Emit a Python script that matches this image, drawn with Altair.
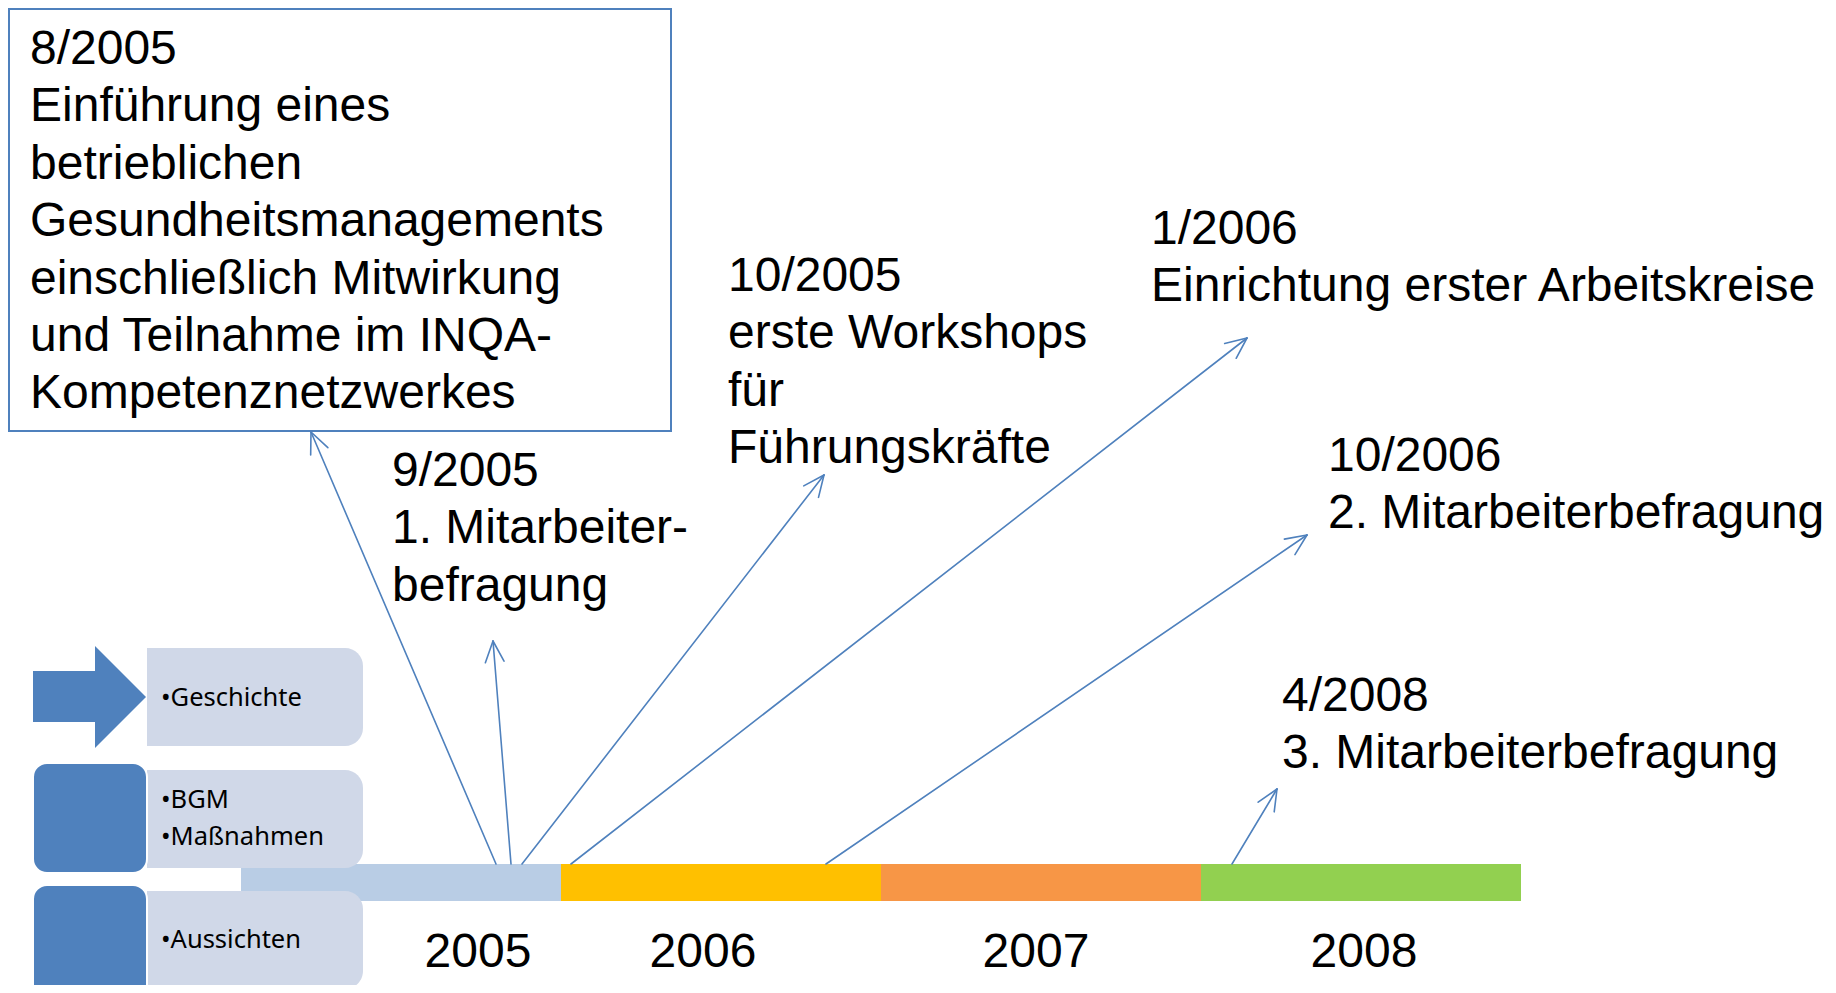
import math
import altair as alt
import pandas as pd

# ---------------- data ----------------
years = ["2005", "2006", "2007", "2008"]
year_colors = ["#B9CDE5", "#FFC000", "#F79646", "#92D050"]
event_dates = ["8/2005", "9/2005", "10/2005", "1/2006", "10/2006", "4/2008"]
event_texts = [
    "Einführung eines\nbetrieblichen\nGesundheitsmanagements\neinschließlich Mitwirkung\nund Teilnahme im INQA-\nKompetenznetzwerkes",
    "1. Mitarbeiter-\nbefragung",
    "erste Workshops\nfür\nFührungskräfte",
    "Einrichtung erster Arbeitskreise",
    "2. Mitarbeiterbefragung",
    "3. Mitarbeiterbefragung",
]
nav_items = ["•Geschichte", "•BGM\n•Maßnahmen", "•Aussichten"]

# ---------------- layout (reference pixel canvas) ----------------
seg_edges = [241, 561, 881, 1201, 1521]
bar_top, bar_bottom = 864, 901
year_label_x = [478, 703, 1036, 1364]
year_label_y = 967
label_x = [30, 392, 728, 1151, 1328, 1282]
label_y = [64, 486, 291, 244, 471, 711]
arrow_start_x = [496, 511, 522, 571, 826, 1232]
arrow_tip_x = [311, 493, 824, 1247, 1307, 1277]
arrow_tip_y = [432, 641, 475, 338, 535, 789]
box_frame = dict(x=9, x2=671, y=9, y2=431)
nav_box_x = (147, 363)
nav_box_y = [(648, 746), (770, 868), (891, 989)]
nav_sq_x = (33, 147)
nav_sq_y = [(763, 873), (885, 1010)]
nav_text_x = 161
nav_text_y = [706, 808, 948]
arrow_body = dict(x=33, x2=96, y=671, y2=722)
arrow_head = [(95, 646, 748), (146, 697, 697)]

BLUE = "#4F81BD"
NAV_FILL = "#D0D8E8"
FONT = "Liberation Sans"
CANVAS_H = 977

xs = alt.Scale(domain=[8, 1828], nice=False, zero=False)
ys = alt.Scale(domain=[8, 8 + CANVAS_H], reverse=True, nice=False, zero=False)


def X(f):
    return alt.X(f, type="quantitative", scale=xs, axis=None)


def Y(f):
    return alt.Y(f, type="quantitative", scale=ys, axis=None)


# frame around first event
frame_df = pd.DataFrame([box_frame])
frame = alt.Chart(frame_df).mark_rect(fillOpacity=0, stroke=BLUE, strokeWidth=2).encode(
    x=X("x"), x2="x2", y=Y("y"), y2="y2")

# timeline bar
bar_df = pd.DataFrame({
    "year": years,
    "x": seg_edges[:-1],
    "x2": seg_edges[1:],
    "y": [bar_top] * 4,
    "y2": [bar_bottom] * 4,
})
bars = alt.Chart(bar_df).mark_rect().encode(
    x=X("x"), x2="x2", y=Y("y"), y2="y2",
    color=alt.Color("year:N", scale=alt.Scale(domain=years, range=year_colors), legend=None),
)

year_df = pd.DataFrame({"year": years, "x": year_label_x, "y": [year_label_y] * 4})
year_text = alt.Chart(year_df).mark_text(
    font=FONT, fontSize=48, baseline="alphabetic", align="center", color="black"
).encode(x=X("x"), y=Y("y"), text="year:N")

# arrows
arr_df = pd.DataFrame({
    "x": arrow_start_x, "y": [bar_top] * 6,
    "x2": arrow_tip_x, "y2": arrow_tip_y,
})
arrows = alt.Chart(arr_df).mark_rule(color=BLUE, strokeWidth=1.6, strokeCap="round").encode(
    x=X("x"), y=Y("y"), x2="x2", y2="y2")

L, th = 23, math.radians(24)
heads = []
for sx, tx, ty in zip(arrow_start_x, arrow_tip_x, arrow_tip_y):
    dx, dy = sx - tx, bar_top - ty
    n = math.hypot(dx, dy)
    ux, uy = dx / n, dy / n
    for s in (1, -1):
        a = s * th
        rx = ux * math.cos(a) - uy * math.sin(a)
        ry = ux * math.sin(a) + uy * math.cos(a)
        heads.append({"x": tx, "y": ty, "x2": tx + L * rx, "y2": ty + L * ry})
head_df = pd.DataFrame(heads)
arrow_heads = alt.Chart(head_df).mark_rule(color=BLUE, strokeWidth=1.6, strokeCap="round").encode(
    x=X("x"), y=Y("y"), x2="x2", y2="y2")

# event labels
lab_df = pd.DataFrame({
    "label": [d + "\n" + t for d, t in zip(event_dates, event_texts)],
    "x": label_x, "y": label_y,
})
labels = alt.Chart(lab_df).mark_text(
    font=FONT, fontSize=48, baseline="alphabetic", align="left", color="black",
    lineBreak="\n", lineHeight=57.4,
).encode(x=X("x"), y=Y("y"), text="label:N")

# left navigation
nav_df = pd.DataFrame({
    "item": nav_items,
    "x": [nav_box_x[0]] * 3, "x2": [nav_box_x[1]] * 3,
    "y": [a for a, b in nav_box_y], "y2": [b for a, b in nav_box_y],
})
nav_boxes = alt.Chart(nav_df).mark_rect(
    color=NAV_FILL, cornerRadiusTopRight=18, cornerRadiusBottomRight=18
).encode(x=X("x"), x2="x2", y=Y("y"), y2="y2")

sq_df = pd.DataFrame({
    "x": [nav_sq_x[0]] * 2, "x2": [nav_sq_x[1]] * 2,
    "y": [a for a, b in nav_sq_y], "y2": [b for a, b in nav_sq_y],
})
nav_squares = alt.Chart(sq_df).mark_rect(
    color=BLUE, cornerRadius=14, stroke="white", strokeWidth=2
).encode(x=X("x"), x2="x2", y=Y("y"), y2="y2")

body_df = pd.DataFrame([arrow_body])
nav_arrow_body = alt.Chart(body_df).mark_rect(color=BLUE).encode(
    x=X("x"), x2="x2", y=Y("y"), y2="y2")
head_area_df = pd.DataFrame(arrow_head, columns=["x", "y", "y2"])
nav_arrow_head = alt.Chart(head_area_df).mark_area(color=BLUE, orient="vertical").encode(
    x=X("x"), y=Y("y"), y2="y2")

nav_text_df = pd.DataFrame({"item": nav_items, "x": [nav_text_x] * 3, "y": nav_text_y})
nav_text = alt.Chart(nav_text_df).mark_text(
    font="Noto Sans", fontSize=25.5, baseline="alphabetic", align="left", color="black",
    lineBreak="\n", lineHeight=37,
).encode(x=X("x"), y=Y("y"), text="item:N")

chart = alt.layer(
    frame, bars, arrows, arrow_heads, year_text, labels,
    nav_boxes, nav_squares, nav_arrow_body, nav_arrow_head, nav_text,
).properties(
    width=1820, height=CANVAS_H, padding=0, autosize=alt.AutoSizeParams(type="none"),
    background="white",
).configure_view(stroke=None)

chart.save("out.html", embed_options={"renderer": "svg", "actions": False})
